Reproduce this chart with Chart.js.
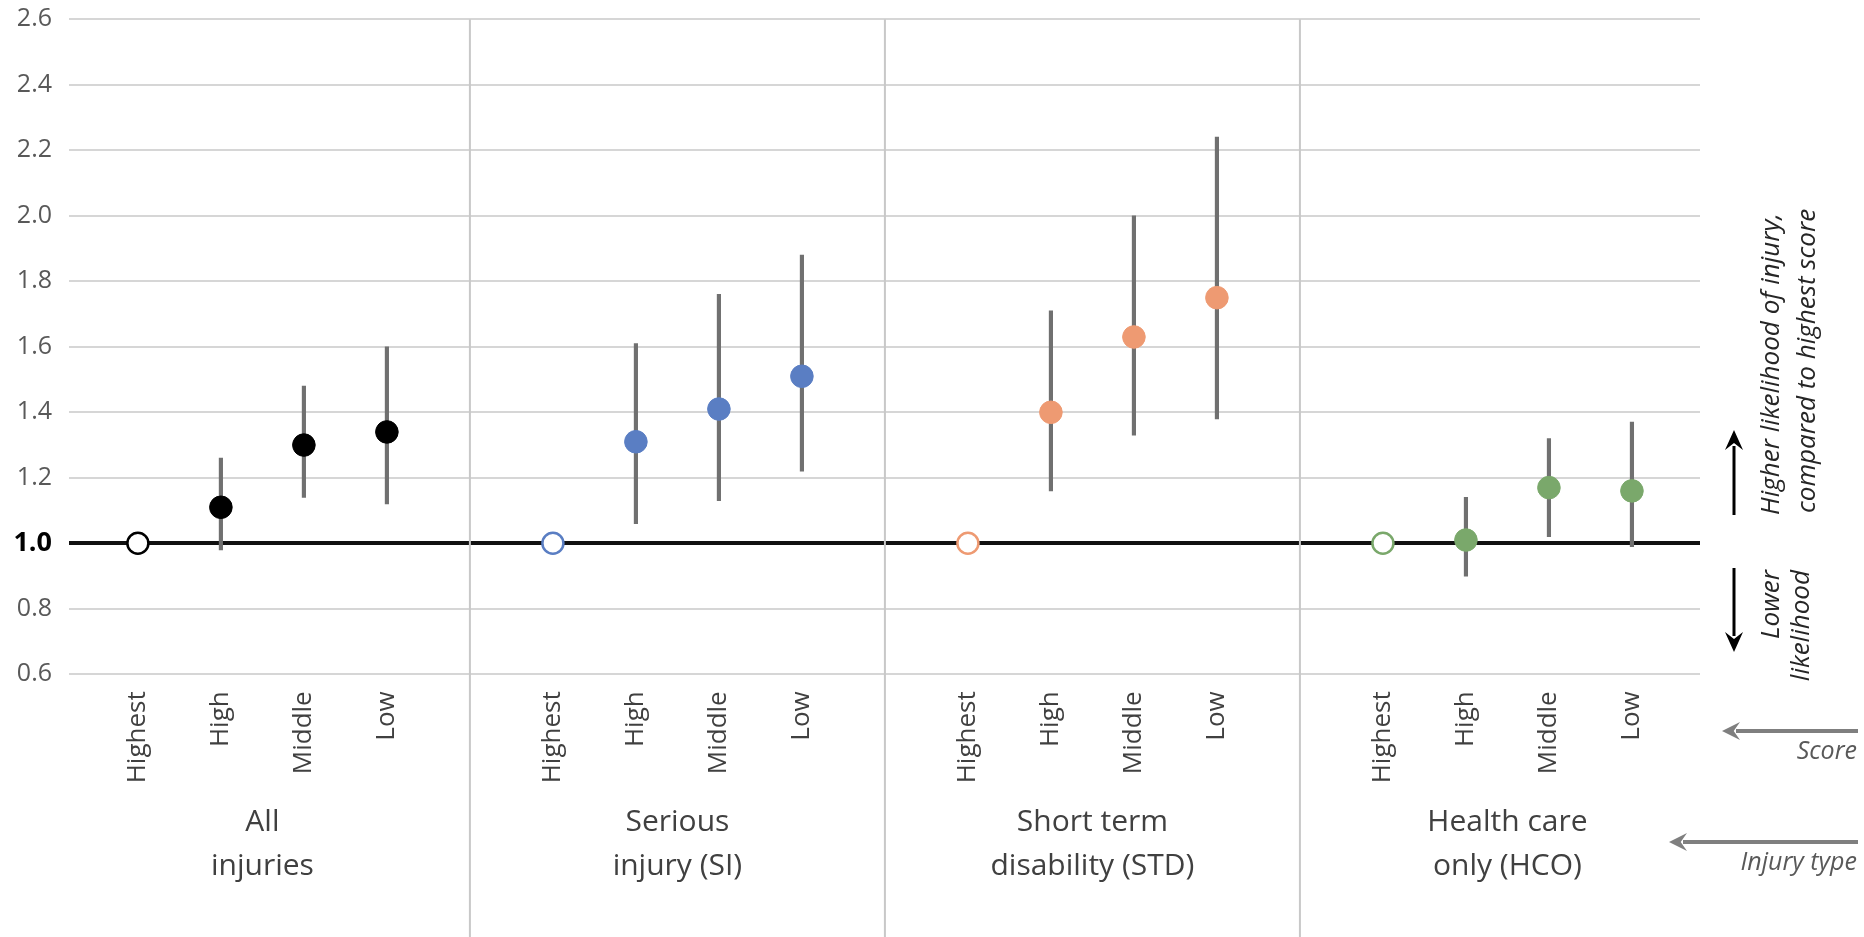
<!DOCTYPE html>
<html>
<head>
<meta charset="utf-8">
<script src="https://cdn.jsdelivr.net/npm/chart.js@4/dist/chart.umd.min.js"></script>
<style>
  html, body { margin: 0; padding: 0; background: #ffffff; }
  #wrap { width: 1864px; height: 937px; position: relative; }
</style>
</head>
<body>
<div id="wrap"><canvas id="chart"></canvas></div>
<script>
// Score levels shown within each injury type
const scoreLevels = ['Highest', 'High', 'Middle', 'Low'];
// Injury types (two-line labels under each block)
const injuryTypes = [
  ['All', 'injuries'],
  ['Serious', 'injury (SI)'],
  ['Short term', 'disability (STD)'],
  ['Health care', 'only (HCO)']
];
const typeColors = ['#000000', '#5A7EC3', '#EE9A72', '#7AA86B'];
const yTicks = [0.6, 0.8, 1.0, 1.2, 1.4, 1.6, 1.8, 2.0, 2.2, 2.4, 2.6];

// Likelihood of injury relative to the highest score (reference = 1.0)
const allInjuries      = [1.00, 1.11, 1.30, 1.34];
const seriousInjury    = [1.00, 1.31, 1.41, 1.51];
const shortTermDisab   = [1.00, 1.40, 1.63, 1.75];
const healthCareOnly   = [1.00, 1.01, 1.17, 1.16];

// 95% confidence interval bounds (none for the reference level)
const allInjuriesLow    = [null, 0.98, 1.14, 1.12];
const allInjuriesHigh   = [null, 1.26, 1.48, 1.60];
const seriousInjuryLow  = [null, 1.06, 1.13, 1.22];
const seriousInjuryHigh = [null, 1.61, 1.76, 1.88];
const shortTermLow      = [null, 1.16, 1.33, 1.38];
const shortTermHigh     = [null, 1.71, 2.00, 2.24];
const healthCareLow     = [null, 0.90, 1.02, 0.99];
const healthCareHigh    = [null, 1.14, 1.32, 1.37];

const estimates = [allInjuries, seriousInjury, shortTermDisab, healthCareOnly];
const lows  = [allInjuriesLow, seriousInjuryLow, shortTermLow, healthCareLow];
const highs = [allInjuriesHigh, seriousInjuryHigh, shortTermHigh, healthCareHigh];

// each injury type takes one slot per score level plus one spacer slot
const slotsPerType = scoreLevels.length + 1;
const slotOf = (t, k) => t * slotsPerType + k;
const isOne = v => Math.abs(v - 1) < 1e-6;

const FONT = "'Open Sans', 'Noto Sans', sans-serif";

const intervalData = [];
estimates.forEach((vals, t) => {
  vals.forEach((v, k) => {
    if (lows[t][k] != null) intervalData.push({ x: slotOf(t, k), y: [lows[t][k], highs[t][k]] });
  });
});

const pointSets = estimates.map((vals, t) => ({
  type: 'scatter',
  label: injuryTypes[t].join(' '),
  data: vals.map((v, k) => ({ x: slotOf(t, k), y: v })),
  pointRadius: vals.map((v, k) => k === 0 ? 10.5 : 11.3),
  pointBorderWidth: vals.map((v, k) => k === 0 ? 2.5 : 1),
  pointBackgroundColor: vals.map((v, k) => k === 0 ? '#ffffff' : typeColors[t]),
  pointBorderColor: typeColors[t],
  showLine: false,
  order: 1
}));

function arrow(ctx, x1, y1, x2, y2, color, width, headLen, headHalf) {
  const ang = Math.atan2(y2 - y1, x2 - x1);
  const bx = x2 - headLen * Math.cos(ang), by = y2 - headLen * Math.sin(ang);
  ctx.save();
  ctx.strokeStyle = color; ctx.fillStyle = color; ctx.lineWidth = width;
  ctx.beginPath(); ctx.moveTo(x1, y1); ctx.lineTo(bx + Math.cos(ang) * 4, by + Math.sin(ang) * 4); ctx.stroke();
  ctx.beginPath();
  ctx.moveTo(x2, y2);
  ctx.lineTo(bx - headHalf * Math.sin(ang), by + headHalf * Math.cos(ang));
  ctx.lineTo(bx + Math.cos(ang) * headLen * 0.35, by + Math.sin(ang) * headLen * 0.35);
  ctx.lineTo(bx + headHalf * Math.sin(ang), by - headHalf * Math.cos(ang));
  ctx.closePath(); ctx.fill();
  ctx.restore();
}

function verticalText(ctx, text, x, y, align) {
  ctx.save();
  ctx.translate(x, y);
  ctx.rotate(-Math.PI / 2);
  ctx.textAlign = align;
  ctx.textBaseline = 'middle';
  ctx.fillText(text, 0, 0);
  ctx.restore();
}

const decorations = {
  id: 'decorations',
  beforeDatasetsDraw(chart) {
    const { ctx, chartArea, scales: { x } } = chart;
    ctx.save();
    ctx.strokeStyle = '#c8c8c8';
    ctx.lineWidth = 2;
    for (let t = 1; t < injuryTypes.length; t++) {
      const px = x.getPixelForValue(t * slotsPerType - 1);
      ctx.beginPath();
      ctx.moveTo(px, chartArea.top);
      ctx.lineTo(px, chart.height);
      ctx.stroke();
    }
    ctx.restore();
  },
  afterDraw(chart) {
    const { ctx, chartArea, scales: { x } } = chart;
    ctx.save();
    // injury type labels
    ctx.fillStyle = '#404040';
    ctx.font = `30px ${FONT}`;
    ctx.textAlign = 'center';
    ctx.textBaseline = 'middle';
    injuryTypes.forEach((lines, t) => {
      const cx = x.getPixelForValue(slotOf(t, (scoreLevels.length - 1) / 2));
      lines.forEach((ln, i) => ctx.fillText(ln, cx, chartArea.bottom + 148 + i * 44));
    });

    // side annotations
    arrow(ctx, 1734, 515, 1734, 430, '#000000', 3, 20, 9);
    arrow(ctx, 1734, 568, 1734, 652, '#000000', 3, 20, 9);
    ctx.fillStyle = '#262626';
    ctx.font = `italic 26px ${FONT}`;
    verticalText(ctx, 'Higher likelihood of injury,', 1772, 515, 'left');
    verticalText(ctx, 'compared to highest score', 1808, 513, 'left');
    verticalText(ctx, 'Lower', 1772, 570, 'right');
    verticalText(ctx, 'likelihood', 1802, 570, 'right');

    arrow(ctx, 1858, 731, 1722, 731, '#7f7f7f', 4, 18, 9);
    arrow(ctx, 1858, 842, 1669, 842, '#7f7f7f', 4, 18, 9);
    ctx.fillStyle = '#595959';
    ctx.font = `italic 25px ${FONT}`;
    ctx.textAlign = 'right';
    ctx.textBaseline = 'middle';
    ctx.fillText('Score', 1857, 752);
    ctx.fillText('Injury type', 1857, 863);
    ctx.restore();
  }
};

new Chart(document.getElementById('chart'), {
  type: 'scatter',
  data: {
    datasets: [
      {
        type: 'bar',
        label: '95% CI',
        data: intervalData,
        backgroundColor: '#707070',
        borderWidth: 0,
        barThickness: 3.5,
        order: 2
      },
      ...pointSets
    ]
  },
  options: {
    responsive: true,
    maintainAspectRatio: false,
    animation: false,
    layout: { padding: { top: 19.3, right: 164, left: 0, bottom: 0 } },
    plugins: { legend: { display: false }, tooltip: { enabled: false } },
    scales: {
      x: {
        type: 'linear',
        offset: false,
        min: -0.83,
        max: 18.82,
        afterBuildTicks: s => {
          const t = [];
          injuryTypes.forEach((_, i) => scoreLevels.forEach((__, k) => t.push({ value: slotOf(i, k) })));
          s.ticks = t;
        },
        afterFit: s => { s.height = 262.7; s.paddingLeft = 0; s.paddingRight = 0; },
        grid: { display: false, drawTicks: false, offset: false },
        border: { display: false },
        ticks: {
          autoSkip: false,
          minRotation: 90,
          maxRotation: 90,
          padding: 17,
          color: '#404040',
          font: { family: FONT, size: 26 },
          callback: v => scoreLevels[Math.round(v) % slotsPerType] || ''
        }
      },
      y: {
        min: 0.6,
        max: 2.6,
        afterBuildTicks: s => { s.ticks = yTicks.map(v => ({ value: v })); },
        afterFit: s => { s.width = 69; s.paddingTop = 0; s.paddingBottom = 0; },
        border: { display: false },
        grid: {
          drawTicks: false,
          color: c => (c.tick && isOne(c.tick.value)) ? '#111111' : '#d6d6d6',
          lineWidth: c => (c.tick && isOne(c.tick.value)) ? 4 : 2
        },
        ticks: {
          padding: 17,
          color: c => (c.tick && isOne(c.tick.value)) ? '#000000' : '#595959',
          font: c => (c.tick && isOne(c.tick.value))
            ? { family: FONT, size: 27, weight: 'bold' }
            : { family: FONT, size: 25, weight: 'normal' },
          callback: v => Number(v).toFixed(1)
        }
      }
    }
  },
  plugins: [decorations]
});
</script>
</body>
</html>
